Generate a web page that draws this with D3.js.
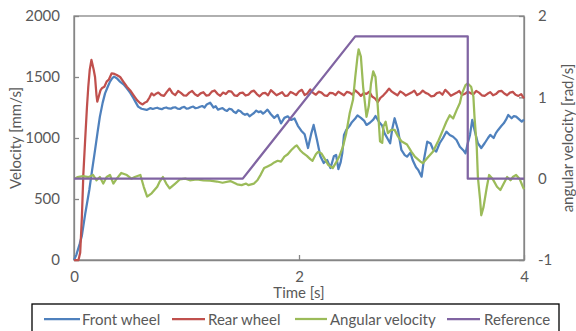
<!DOCTYPE html>
<html><head><meta charset="utf-8">
<script src="https://cdn.jsdelivr.net/npm/d3@7"></script>
<style>body{margin:0;background:#fff}svg text{font-family:Lato,"Open Sans",sans-serif;fill:#595959}</style>
</head><body><svg id="c" width="576" height="331"></svg>
<script>
const xTicks=[0,2,4];
const velTicks=[0,500,1000,1500,2000];
const angTicks=[-1,0,1,2];
const seriesNames=["Front wheel","Rear wheel","Angular velocity","Reference"];
const seriesColors=["#4F81BD","#C0504D","#9BBB59","#8064A2"];

const frontWheel=[[0,0],[0.02,40],[0.05,130],[0.07,200],[0.1,380],[0.136,574],[0.16,730],[0.187,900],[0.21,1050],[0.23,1175],[0.255,1290],[0.276,1366],[0.3,1420],[0.32,1462],[0.34,1490],[0.356,1503],[0.38,1490],[0.409,1462],[0.44,1440],[0.468,1410],[0.5,1370],[0.527,1328],[0.55,1290],[0.57,1257],[0.6,1240],[0.646,1230],[0.68,1245],[0.7,1238],
[0.72,1244],[0.74,1248],[0.76,1240],[0.78,1236],[0.8,1246],[0.82,1250],[0.84,1242],[0.86,1240],[0.88,1249],[0.9,1252],[0.92,1241],[0.94,1238],[0.96,1250],[0.98,1255],[1.0,1240],[1.02,1243],[1.04,1252],[1.06,1258],[1.08,1244],[1.1,1248],[1.12,1256],[1.14,1262],[1.16,1250],[1.18,1275],[1.21,1290],[1.24,1250],[1.26,1260],[1.28,1232],[1.3,1240],[1.32,1245],[1.34,1230],[1.36,1222],[1.38,1240],[1.4,1235],[1.42,1215],[1.44,1205],[1.46,1228],[1.48,1220],[1.5,1200],[1.52,1190],[1.54,1198],[1.56,1178],[1.58,1192],[1.6,1205],[1.62,1225],[1.64,1212],[1.66,1218],[1.68,1200],[1.7,1215],[1.72,1232],[1.75,1195],[1.78,1165],[1.81,1190],[1.84,1120],[1.87,1165],[1.9,1178],[1.93,1148],[1.96,1160],[1.99,1100],[2.02,1060],[2.05,1030],[2.08,918],[2.11,1040],[2.13,1107],[2.16,984],[2.19,850],[2.22,795],[2.25,820],[2.28,754],[2.31,850],[2.33,861],[2.35,745],[2.37,800],[2.385,877],[2.4,1025],[2.42,1066],[2.45,1100],[2.47,1130],[2.5,1160],[2.52,1185],[2.55,1165],[2.58,1140],[2.6,1107],[2.63,1125],[2.66,1150],[2.68,1180],[2.71,1134],[2.74,1100],[2.76,1040],[2.79,990],[2.81,957],[2.83,1080],[2.85,1162],[2.88,1066],[2.91,902],[2.94,860],[2.96,847],[2.99,880],[3.01,820],[3.04,760],[3.06,738],[3.09,683],[3.11,820],[3.14,970],[3.17,955],[3.19,910],[3.22,888],[3.25,957],[3.28,1000],[3.31,1052],[3.34,1025],[3.37,1010],[3.4,984],[3.43,929],[3.46,900],[3.48,875],[3.5,957],[3.52,1025],[3.54,1148],[3.56,1066],[3.59,957],[3.62,918],[3.65,957],[3.68,1000],[3.7,1025],[3.73,1000],[3.75,1040],[3.77,1066],[3.8,1100],[3.82,1120],[3.84,1150],[3.86,1189],[3.89,1162],[3.91,1180],[3.93,1175],[3.96,1150],[3.98,1134],[4.0,1150]];

const rearWheel=[[0,0],[0.04,0],[0.055,60],[0.07,350],[0.083,700],[0.1,1000],[0.115,1250],[0.127,1420],[0.14,1560],[0.155,1640],[0.165,1600],[0.175,1560],[0.187,1500],[0.2,1350],[0.207,1298],[0.22,1340],[0.235,1390],[0.25,1410],[0.27,1420],[0.29,1462],[0.31,1480],[0.335,1530],[0.36,1525],[0.38,1516],[0.41,1500],[0.44,1460],[0.47,1420],[0.5,1390],[0.53,1350],[0.56,1310],[0.587,1287],[0.61,1275],[0.63,1290],[0.65,1300],[0.67,1330],[0.69,1366],[0.71,1350],
[0.725,1360],[0.75,1372],[0.775,1352],[0.8,1345],[0.825,1378],[0.85,1405],[0.875,1368],[0.9,1352],[0.925,1385],[0.95,1370],[0.975,1350],[1.0,1348],[1.025,1372],[1.05,1385],[1.075,1358],[1.1,1345],[1.125,1366],[1.15,1375],[1.175,1348],[1.2,1352],[1.225,1380],[1.25,1390],[1.275,1362],[1.3,1346],[1.325,1372],[1.35,1360],[1.375,1385],[1.4,1380],[1.425,1350],[1.45,1345],[1.475,1368],[1.5,1372],[1.525,1348],[1.55,1355],[1.575,1380],[1.6,1388],[1.625,1360],[1.65,1342],[1.675,1365],[1.7,1370],[1.725,1350],[1.75,1392],[1.775,1372],[1.8,1350],[1.825,1362],[1.85,1375],[1.875,1345],[1.9,1348],[1.925,1378],[1.95,1366],[1.975,1352],[2.0,1382],[2.025,1395],[2.05,1352],[2.075,1365],[2.1,1398],[2.125,1370],[2.15,1355],[2.175,1380],[2.2,1372],[2.225,1350],[2.25,1345],[2.275,1370],[2.3,1368],[2.325,1352],[2.35,1380],[2.375,1365],[2.4,1350],[2.425,1378],[2.45,1372],[2.475,1355],[2.5,1390],[2.525,1370],[2.55,1345],[2.575,1368],[2.6,1362],[2.625,1380],[2.65,1340],[2.675,1325],[2.7,1295],[2.725,1330],[2.75,1350],[2.775,1375],[2.8,1405],[2.825,1380],[2.85,1365],[2.875,1350],[2.9,1382],[2.925,1368],[2.95,1348],[2.975,1360],[3.0,1372],[3.025,1388],[3.05,1352],[3.075,1365],[3.1,1388],[3.125,1370],[3.15,1360],[3.175,1342],[3.2,1345],[3.225,1368],[3.25,1375],[3.275,1355],[3.3,1395],[3.325,1372],[3.35,1346],[3.375,1358],[3.4,1370],[3.425,1385],[3.45,1352],[3.475,1362],[3.5,1380],[3.525,1368],[3.55,1358],[3.575,1385],[3.6,1372],[3.625,1350],[3.65,1345],[3.675,1362],[3.7,1376],[3.725,1350],[3.75,1360],[3.775,1382],[3.8,1386],[3.825,1365],[3.85,1350],[3.875,1372],[3.9,1378],[3.925,1355],[3.95,1345],[3.975,1360],[4.0,1325]];

const angularVelocity=[[0.01,0],[0.03,0.02],[0.08,0.03],[0.13,0.02],[0.17,0.045],[0.2,-0.02],[0.23,0.02],[0.26,-0.06],[0.29,0.02],[0.32,0.045],[0.35,-0.06],[0.38,0],[0.42,0.07],[0.47,0.045],[0.51,0],[0.54,0.02],[0.59,0.045],[0.62,-0.1],[0.65,-0.22],[0.69,-0.18],[0.74,-0.1],[0.76,-0.04],[0.79,0.02],[0.82,-0.06],[0.85,-0.12],[0.9,-0.06],[0.94,-0.01],[0.99,0],[1.03,-0.02],[1.09,-0.01],[1.15,-0.02],[1.21,-0.025],[1.27,-0.035],[1.32,-0.05],[1.39,-0.03],[1.45,-0.07],[1.49,-0.08],[1.53,-0.06],[1.55,-0.08],[1.6,-0.06],[1.63,-0.02],[1.66,0.05],[1.69,0.13],[1.72,0.15],[1.75,0.17],[1.78,0.2],[1.81,0.22],[1.84,0.21],[1.87,0.27],[1.9,0.3],[1.93,0.35],[1.96,0.39],[1.98,0.41],[2.01,0.35],[2.04,0.31],[2.07,0.28],[2.1,0.24],[2.12,0.22],[2.15,0.3],[2.17,0.33],[2.2,0.31],[2.23,0.24],[2.26,0.17],[2.3,0.13],[2.33,0.2],[2.36,0.28],[2.39,0.39],[2.42,0.56],[2.45,0.8],[2.48,0.97],[2.5,1.25],[2.52,1.5],[2.53,1.59],[2.55,1.5],[2.57,1.13],[2.6,0.76],[2.62,0.89],[2.64,1.17],[2.66,1.32],[2.68,1.25],[2.7,0.89],[2.72,0.46],[2.74,0.44],[2.75,0.64],[2.77,0.7],[2.79,0.56],[2.82,0.6],[2.85,0.6],[2.88,0.52],[2.91,0.46],[2.96,0.42],[3.0,0.33],[3.03,0.27],[3.08,0.21],[3.1,0.19],[3.15,0.27],[3.19,0.33],[3.24,0.47],[3.28,0.6],[3.31,0.7],[3.34,0.78],[3.37,0.74],[3.4,0.84],[3.43,0.93],[3.45,1.05],[3.48,1.15],[3.5,1.17],[3.53,1.13],[3.55,1.01],[3.56,0.76],[3.58,0.39],[3.59,0.02],[3.61,-0.26],[3.62,-0.45],[3.64,-0.35],[3.67,-0.1],[3.69,0.045],[3.72,0],[3.76,-0.1],[3.79,-0.14],[3.82,-0.06],[3.85,0.02],[3.88,-0.02],[3.9,0.02],[3.93,0.045],[3.96,0],[3.99,-0.1],[4.0,-0.13]];

const reference=[[0,0],[1.5,0],[2.5,1.75],[3.5,1.75],[3.5,0],[4,0]];

const svg=d3.select("#c");
const L=74,R=524,T=16,B=260;
const x=d3.scaleLinear().domain([0,4]).range([L,R]);
const yV=d3.scaleLinear().domain([0,2000]).range([B,T]);
const yA=d3.scaleLinear().domain([-1,2]).range([B,T]);
const axisCol="#868686";
const FS="15px";

svg.append("rect").attr("x",L).attr("y",T).attr("width",R-L).attr("height",B-T).attr("fill","none").attr("stroke",axisCol).attr("stroke-width",1.3);

const gL=svg.append("g").attr("transform",`translate(${L},0)`).call(d3.axisLeft(yV).tickValues(velTicks).tickSizeInner(-5).tickSizeOuter(0).tickPadding(14).tickFormat(d3.format("d")));
const gR=svg.append("g").attr("transform",`translate(${R},0)`).call(d3.axisRight(yA).tickValues(angTicks).tickSizeInner(-5).tickSizeOuter(0).tickPadding(14).tickFormat(d=>d<0?"-"+Math.abs(d):String(d)));
const gB=svg.append("g").attr("transform",`translate(0,${B})`).call(d3.axisBottom(x).tickValues(xTicks).tickSizeInner(-5).tickSizeOuter(0).tickPadding(11).tickFormat(d3.format("d")));
[gL,gR,gB].forEach(g=>{g.select(".domain").attr("stroke",axisCol).attr("stroke-width",1.3);g.selectAll(".tick line").attr("stroke",axisCol).attr("stroke-width",1.3);g.selectAll("text").style("font-size",FS).attr("fill","#595959").style("font-family","Lato,sans-serif");});

svg.append("text").attr("transform",`translate(15,${(T+B)/2}) rotate(-90)`).attr("text-anchor","middle").attr("dominant-baseline","central").style("font-size",FS).text("Velocity [mm/s]");
svg.append("text").attr("transform",`translate(567,${(T+B)/2}) rotate(-90)`).attr("text-anchor","middle").attr("dominant-baseline","central").style("font-size",FS).text("angular velocity [rad/s]");
svg.append("text").attr("x",(L+R)/2).attr("y",292).attr("text-anchor","middle").attr("dominant-baseline","central").style("font-size",FS).text("Time [s]");

const lineV=d3.line().x(d=>x(d[0])).y(d=>yV(d[1]));
const lineA=d3.line().x(d=>x(d[0])).y(d=>yA(d[1]));
const plot=[[frontWheel,lineV],[rearWheel,lineV],[angularVelocity,lineA],[reference,lineA]];
plot.forEach((p,i)=>{
  svg.append("path").attr("d",p[1](p[0])).attr("fill","none").attr("stroke",seriesColors[i]).attr("stroke-width",2.25).attr("stroke-linejoin","round").attr("stroke-linecap","butt");
});

svg.append("rect").attr("x",32).attr("y",304).attr("width",527).attr("height",30).attr("fill","#fff").attr("stroke","#000").attr("stroke-width",1.3);
const legX=[[44,80,82],[172,205,208],[295,327,330],[447,480,484]];
seriesNames.forEach((n,i)=>{
  svg.append("line").attr("x1",legX[i][0]).attr("x2",legX[i][1]).attr("y1",319).attr("y2",319).attr("stroke",seriesColors[i]).attr("stroke-width",2.25);
  svg.append("text").attr("x",legX[i][2]).attr("y",319).attr("dominant-baseline","central").style("font-size",FS).text(n);
});
</script></body></html>
